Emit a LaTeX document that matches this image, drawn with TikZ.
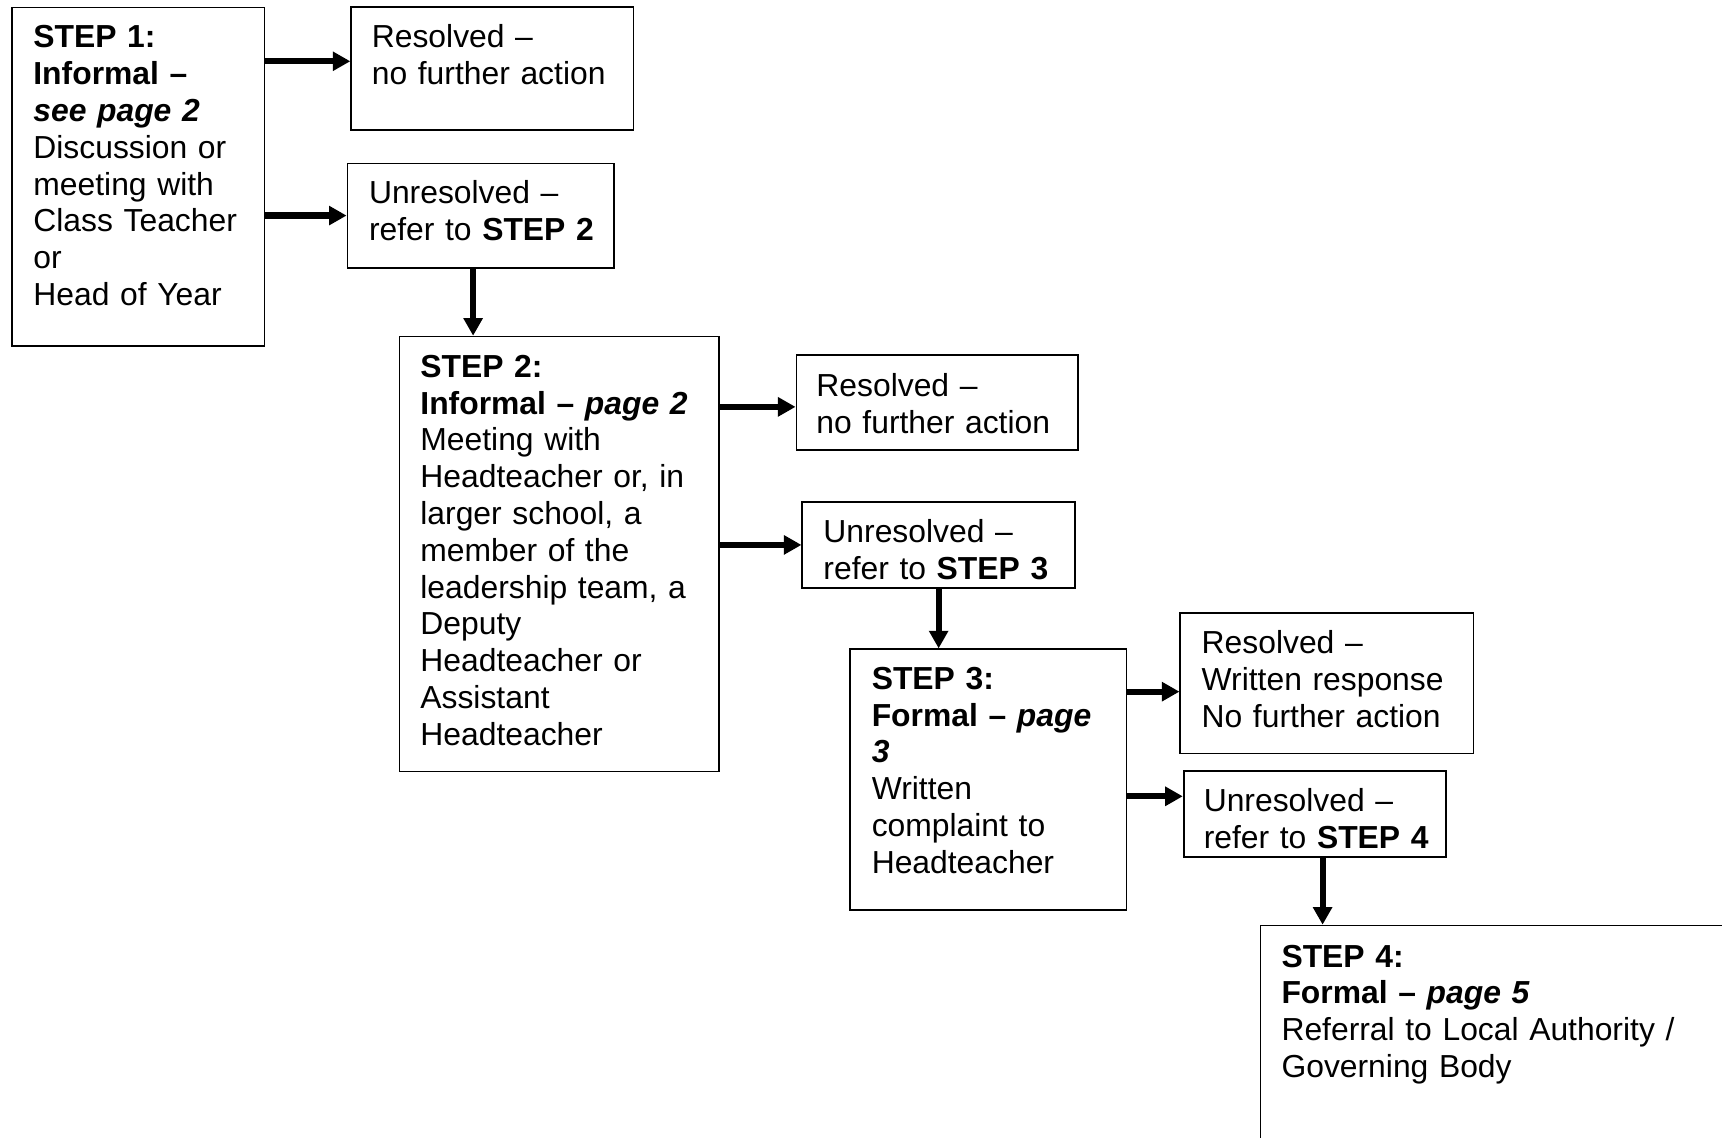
\documentclass[tikz,border=0pt]{standalone}
\usepackage{fontspec}
\setmainfont{Liberation Sans}
\usetikzlibrary{positioning,arrows.meta}

\begin{document}
\begin{tikzpicture}[x=0.5pt,y=-0.5pt,>={Triangle[length=8pt,width=8.4pt]},
	frame/.style={draw,line width=0.8pt,anchor=north west,inner sep=0pt},
	txt/.style={inner sep=0pt,align=left,text width=#1,font=\fontsize{14.5}{16.75}\selectfont},
	flow/.style={->,line width=2.8pt}]
			\clip (0,0) rectangle (1568,1036);
			%%%	Frames
			\node[frame,minimum width=115pt,minimum height=154.3pt] (s1) at (10,6) {};
			\node[frame,minimum width=128.5pt,minimum height=56pt] (r1) at (319,5.5) {};
			\node[frame,minimum width=121.2pt,minimum height=47.5pt] (u1) at (315.6,148) {};
			\node[frame,minimum width=145.5pt,minimum height=198pt] (s2) at (363,305.7) {};
			\node[frame,minimum width=128.2pt,minimum height=43.4pt] (r2) at (724.4,322.3) {};
			\node[frame,minimum width=124.1pt,minimum height=39.4pt] (u2) at (729.8,456) {};
			\node[frame,minimum width=125.8pt,minimum height=118.8pt] (s3) at (773.4,590.4) {};
			\node[frame,minimum width=133.5pt,minimum height=63.9pt] (r3) at (1074,557.6) {};
			\node[frame,minimum width=119.5pt,minimum height=39.3pt] (u3) at (1077,701) {};
			\node[frame,minimum width=250pt,minimum height=150pt] (s4) at (1147,842) {};
			%%%	Texts
			\node[txt=105pt,below right=8.5pt and 10pt of s1.north west] (s1t) {\textbf{STEP 1:}\\ \textbf{Informal --}\\ \textbf{\textit{see page 2}}\\ Discussion or\\ meeting with\\ Class Teacher\\ or\\ Head of Year};
			\node[txt=115pt,below right=8.4pt and 9.6pt of r1.north west] (r1t) {Resolved --\\ no further action};
			\node[txt=110pt,below right=8pt and 10pt of u1.north west] (u1t) {Unresolved --\\ refer to \textbf{STEP 2}};
			\node[txt=133pt,below right=8.65pt and 9.7pt of s2.north west] (s2t) {\textbf{STEP 2:}\\ \textbf{Informal -- \textit{page 2}}\\ Meeting with\\ Headteacher or, in\\ larger school, a\\ member of the\\ leadership team, a\\ Deputy\\ Headteacher or\\ Assistant\\ Headteacher};
			\node[txt=115pt,below right=8.6pt and 9.3pt of r2.north west] (r2t) {Resolved --\\ no further action};
			\node[txt=112pt,below right=8.2pt and 9.8pt of u2.north west] (u2t) {Unresolved --\\ refer to \textbf{STEP 3}};
			\node[txt=113pt,below right=8.3pt and 10pt of s3.north west] (s3t) {\textbf{STEP 3:}\\ \textbf{Formal -- \textit{page}}\\ \textbf{\textit{3}}\\ Written\\ complaint to\\ Headteacher};
			\node[txt=122pt,below right=8.1pt and 9.9pt of r3.north west] (r3t) {Resolved --\\ Written response\\ No further action};
			\node[txt=108pt,below right=8.2pt and 9.35pt of u3.north west] (u3t) {Unresolved --\\ refer to \textbf{STEP 4}};
			\node[txt=200pt,below right=9pt and 9.75pt of s4.north west] (s4t) {\textbf{STEP 4:}\\ \textbf{Formal -- \textit{page 5}}\\ Referral to Local Authority /\\ Governing Body};
			%%%	Arrows
			\coordinate (a1) at ([yshift=3.25pt]r1.west);
			\coordinate (a2) at ([yshift=-2pt]r2.west);
			\coordinate (a3) at ([yshift=-3.75pt]r3.west);
			\coordinate (b3) at ([yshift=8pt]u3.west);
			\coordinate (d1) at ([xshift=-3.4pt]u1.south);
			\coordinate (d3) at ([xshift=3.5pt]u3.south);
			\draw[flow] (s1.east |- a1) -- (a1);
			\draw[flow] (s1.east |- u1.west) -- (u1.west);
			\draw[flow] (d1) -- (d1 |- s2.north);
			\draw[flow] (s2.east |- a2) -- (a2);
			\draw[flow] (s2.east |- u2.west) -- (u2.west);
			\draw[flow] (u2.south) -- (u2.south |- s3.north);
			\draw[flow] (s3.east |- a3) -- (a3);
			\draw[flow] (s3.east |- b3) -- (b3);
			\draw[flow] (d3) -- (d3 |- s4.north);
		\end{tikzpicture}
\end{document}
